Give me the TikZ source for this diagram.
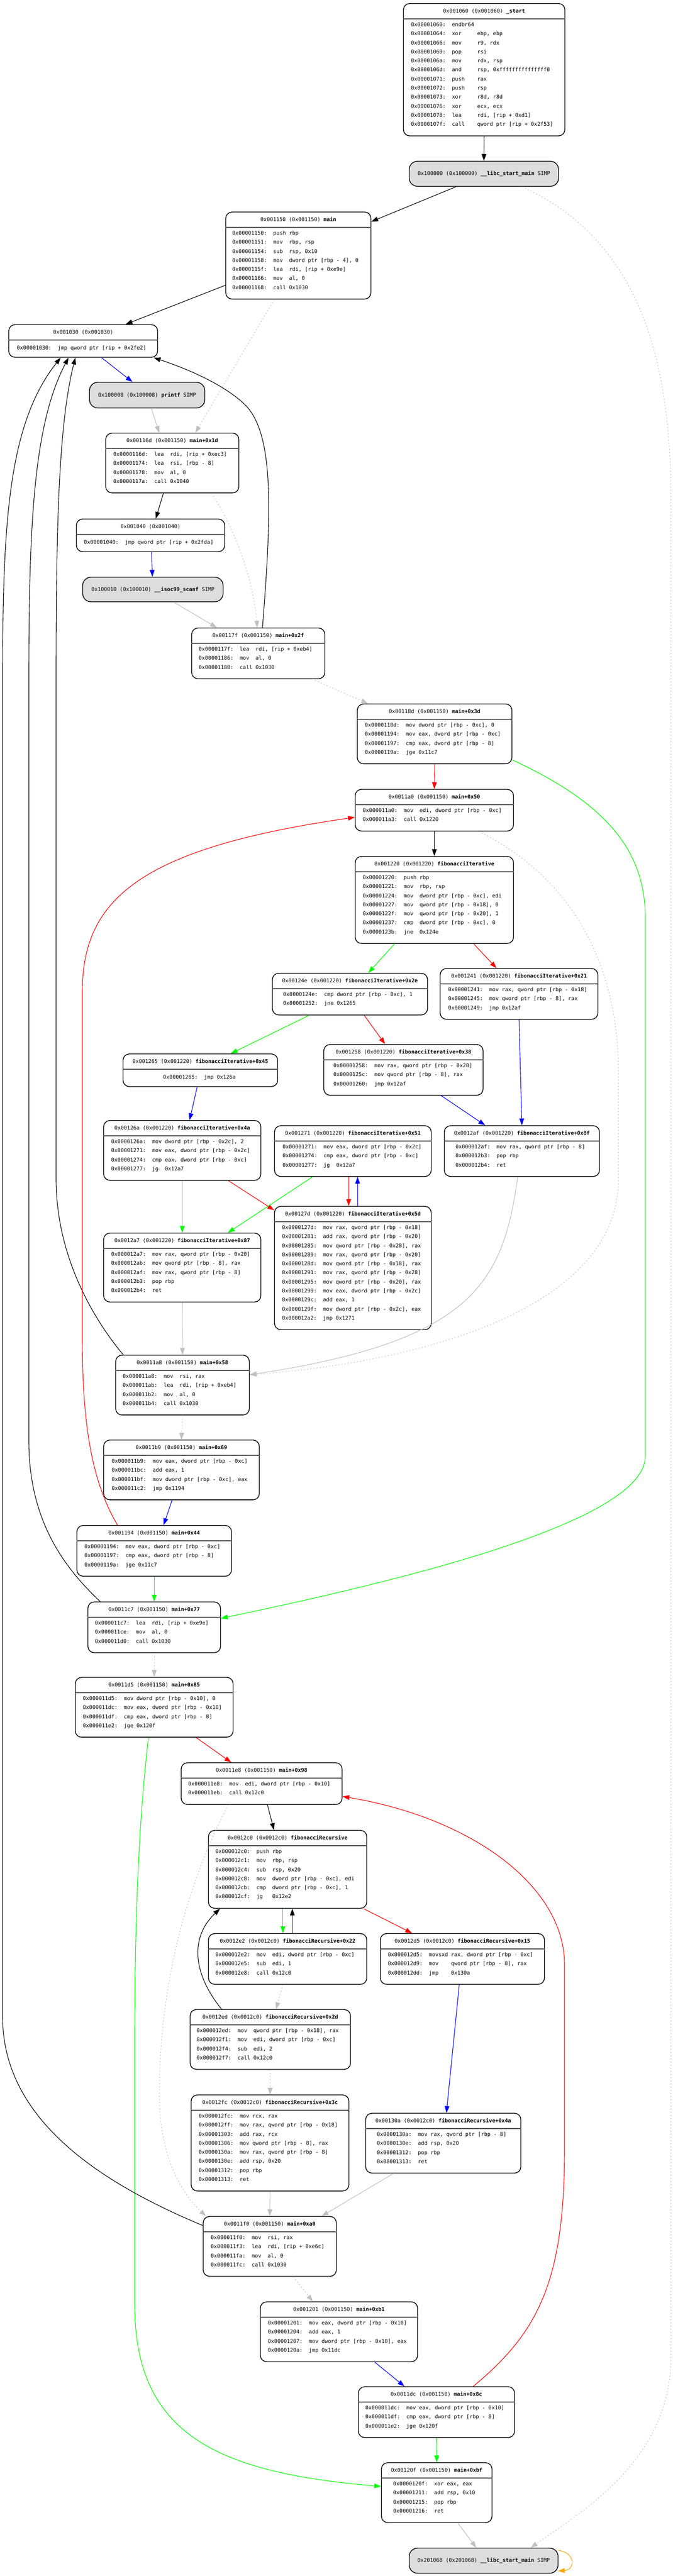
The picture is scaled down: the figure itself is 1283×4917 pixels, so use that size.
\documentclass[tikz,border=0pt]{standalone}
\usepackage{fontspec}
\setmonofont{DejaVu Sans Mono}
\usetikzlibrary{arrows.meta}
\definecolor{retgray}{RGB}{192,192,192}
\definecolor{loopor}{RGB}{255,165,0}
\definecolor{simpfill}{RGB}{221,221,221}
\definecolor{sepgray}{RGB}{85,85,85}
\definecolor{egreen}{RGB}{0,255,0}
\newcommand{\cfgfont}{\ttfamily\frenchspacing\fontsize{10pt}{17.3pt}\selectfont}
\tikzset{
  blkbox/.style={draw=black, line width=1.4pt, rounded corners=12pt, fill=white, inner sep=0pt},
  blksep/.style={draw=sepgray, line width=1.8pt},
  blktitle/.style={anchor=base, inner sep=0pt, font=\cfgfont},
  blkbody/.style={anchor=north west, inner sep=0pt, align=left, font=\cfgfont, execute at begin node={\rule{0pt}{12pt}}},
  simpbox/.style={draw=black, line width=1.4pt, rounded corners=16pt, fill=simpfill, inner sep=0pt, font=\cfgfont},
  cfe/.style={line width=1.1pt, -{Triangle[length=13pt,width=9pt]}},
  ebk/.style={cfe, color=black},
  erd/.style={cfe, color=red},
  egr/.style={cfe, color=egreen},
  ebl/.style={cfe, color=blue},
  ert/.style={cfe, color=retgray},
  efk/.style={cfe, color=retgray, dash pattern=on 2pt off 4pt},
  eor/.style={cfe, color=loopor}
}
% name, x, y, width, lines, body pad, title, body
\newcommand{\cfgblk}[8]{%
  \pgfmathsetmacro{\cfgh}{45+17.3*#5}%
  \node[blkbox, minimum width=#4pt, minimum height=\cfgh pt, anchor=north west] (#1) at (#2,#3) {};
  \draw[blksep] ([yshift=-30pt]#1.north west) -- ([yshift=-30pt]#1.north east);
  \node[blktitle] at ([yshift=-18.6pt]#1.north) {#7};
  \node[blkbody] at ([xshift=#6pt,yshift=-36.6pt]#1.north west) {#8};
}
% name, x, y, width, height, text
\newcommand{\simpblk}[6]{%
  \node[simpbox, minimum width=#4pt, minimum height=#5pt, anchor=north west] (#1) at (#2,#3) {#6};
}
\begin{document}
\begin{tikzpicture}[x=1pt, y=-1pt]
\useasboundingbox (0,0) rectangle (1283,4917);

\cfgblk{start}{769}{6}{308}{12}{15}{0x001060 (0x001060) \textbf{\_start}}{%
0x00001060:~~endbr64\\
0x00001064:~~xor~~~~~ebp, ebp\\
0x00001066:~~mov~~~~~r9, rdx\\
0x00001069:~~pop~~~~~rsi\\
0x0000106a:~~mov~~~~~rdx, rsp\\
0x0000106d:~~and~~~~~rsp, 0xfffffffffffffff0\\
0x00001071:~~push~~~~rax\\
0x00001072:~~push~~~~rsp\\
0x00001073:~~xor~~~~~r8d, r8d\\
0x00001076:~~xor~~~~~ecx, ecx\\
0x00001078:~~lea~~~~~rdi, [rip + 0xd1]\\
0x0000107f:~~call~~~~qword ptr [rip + 0x2f53]}

\simpblk{libcA}{780}{307}{285}{48}{0x100000 (0x100000) \textbf{\_\_libc\_start\_main} SIMP}

\cfgblk{main}{430}{404}{277}{7}{13}{0x001150 (0x001150) \textbf{main}}{%
0x00001150:~~push~rbp\\
0x00001151:~~mov~~rbp, rsp\\
0x00001154:~~sub~~rsp, 0x10\\
0x00001158:~~mov~~dword ptr [rbp - 4], 0\\
0x0000115f:~~lea~~rdi, [rip + 0xe9e]\\
0x00001166:~~mov~~al, 0\\
0x00001168:~~call~0x1030}

\cfgblk{pltA}{16}{619}{284}{1}{16}{0x001030 (0x001030)}{%
0x00001030:~~jmp qword ptr [rip + 0x2fe2]}

\simpblk{printf}{170}{729}{220}{49}{0x100008 (0x100008) \textbf{printf} SIMP}

\cfgblk{mA}{201}{826}{254}{4}{15}{0x00116d (0x001150) \textbf{main+0x1d}}{%
0x0000116d:~~lea~~rdi, [rip + 0xec3]\\
0x00001174:~~lea~~rsi, [rbp - 8]\\
0x00001178:~~mov~~al, 0\\
0x0000117a:~~call~0x1040}

\cfgblk{pltB}{145}{990}{283}{1}{15}{0x001040 (0x001040)}{%
0x00001040:~~jmp qword ptr [rip + 0x2fda]}

\simpblk{scanf}{157}{1101}{268}{47}{0x100010 (0x100010) \textbf{\_\_isoc99\_scanf} SIMP}

\cfgblk{mB}{365}{1198}{254}{3}{14}{0x00117f (0x001150) \textbf{main+0x2f}}{%
0x0000117f:~~lea~~rdi, [rip + 0xeb4]\\
0x00001186:~~mov~~al, 0\\
0x00001188:~~call~0x1030}

\cfgblk{mC}{681}{1343}{295}{4}{15}{0x00118d (0x001150) \textbf{main+0x3d}}{%
0x0000118d:~~mov dword ptr [rbp - 0xc], 0\\
0x00001194:~~mov eax, dword ptr [rbp - 0xc]\\
0x00001197:~~cmp eax, dword ptr [rbp - 8]\\
0x0000119a:~~jge 0x11c7}

\cfgblk{mD}{677}{1506}{302}{2}{15}{0x0011a0 (0x001150) \textbf{main+0x50}}{%
0x000011a0:~~mov~~edi, dword ptr [rbp - 0xc]\\
0x000011a3:~~call~0x1220}

\cfgblk{fibI}{677}{1634}{302}{7}{15}{0x001220 (0x001220) \textbf{fibonacciIterative}}{%
0x00001220:~~push~rbp\\
0x00001221:~~mov~~rbp, rsp\\
0x00001224:~~mov~~dword ptr [rbp - 0xc], edi\\
0x00001227:~~mov~~qword ptr [rbp - 0x18], 0\\
0x0000122f:~~mov~~qword ptr [rbp - 0x20], 1\\
0x00001237:~~cmp~~dword ptr [rbp - 0xc], 0\\
0x0000123b:~~jne~~0x124e}

\cfgblk{iA}{519}{1857}{296}{2}{21}{0x00124e (0x001220) \textbf{fibonacciIterative+0x2e}}{%
0x0000124e:~~cmp dword ptr [rbp - 0xc], 1\\
0x00001252:~~jne 0x1265}

\cfgblk{iB}{839}{1848}{301}{3}{16}{0x001241 (0x001220) \textbf{fibonacciIterative+0x21}}{%
0x00001241:~~mov rax, qword ptr [rbp - 0x18]\\
0x00001245:~~mov qword ptr [rbp - 8], rax\\
0x00001249:~~jmp 0x12af}

\cfgblk{iC}{617}{1993}{304}{3}{19}{0x001258 (0x001220) \textbf{fibonacciIterative+0x38}}{%
0x00001258:~~mov rax, qword ptr [rbp - 0x20]\\
0x0000125c:~~mov qword ptr [rbp - 8], rax\\
0x00001260:~~jmp 0x12af}

\cfgblk{iD}{234}{2011}{295}{1}{77}{0x001265 (0x001220) \textbf{fibonacciIterative+0x45}}{%
0x00001265:~~jmp 0x126a}

\cfgblk{iE}{197}{2138}{300}{4}{15}{0x00126a (0x001220) \textbf{fibonacciIterative+0x4a}}{%
0x0000126a:~~mov dword ptr [rbp - 0x2c], 2\\
0x00001271:~~mov eax, dword ptr [rbp - 0x2c]\\
0x00001274:~~cmp eax, dword ptr [rbp - 0xc]\\
0x00001277:~~jg~~0x12a7}

\cfgblk{iF}{523}{2148}{299}{3}{16}{0x001271 (0x001220) \textbf{fibonacciIterative+0x51}}{%
0x00001271:~~mov eax, dword ptr [rbp - 0x2c]\\
0x00001274:~~cmp eax, dword ptr [rbp - 0xc]\\
0x00001277:~~jg~~0x12a7}

\cfgblk{iG}{847}{2148}{296}{3}{22}{0x0012af (0x001220) \textbf{fibonacciIterative+0x8f}}{%
0x000012af:~~mov rax, qword ptr [rbp - 8]\\
0x000012b3:~~pop rbp\\
0x000012b4:~~ret}

\cfgblk{iH}{523}{2302}{299}{11}{15}{0x00127d (0x001220) \textbf{fibonacciIterative+0x5d}}{%
0x0000127d:~~mov rax, qword ptr [rbp - 0x18]\\
0x00001281:~~add rax, qword ptr [rbp - 0x20]\\
0x00001285:~~mov qword ptr [rbp - 0x28], rax\\
0x00001289:~~mov rax, qword ptr [rbp - 0x20]\\
0x0000128d:~~mov qword ptr [rbp - 0x18], rax\\
0x00001291:~~mov rax, qword ptr [rbp - 0x28]\\
0x00001295:~~mov qword ptr [rbp - 0x20], rax\\
0x00001299:~~mov eax, dword ptr [rbp - 0x2c]\\
0x0000129c:~~add eax, 1\\
0x0000129f:~~mov dword ptr [rbp - 0x2c], eax\\
0x000012a2:~~jmp 0x1271}

\cfgblk{iJ}{197}{2353}{300}{5}{15}{0x0012a7 (0x001220) \textbf{fibonacciIterative+0x87}}{%
0x000012a7:~~mov rax, qword ptr [rbp - 0x20]\\
0x000012ab:~~mov qword ptr [rbp - 8], rax\\
0x000012af:~~mov rax, qword ptr [rbp - 8]\\
0x000012b3:~~pop rbp\\
0x000012b4:~~ret}

\cfgblk{mE}{220}{2586}{255}{4}{14}{0x0011a8 (0x001150) \textbf{main+0x58}}{%
0x000011a8:~~mov~~rsi, rax\\
0x000011ab:~~lea~~rdi, [rip + 0xeb4]\\
0x000011b2:~~mov~~al, 0\\
0x000011b4:~~call~0x1030}

\cfgblk{mF}{197}{2748}{297}{4}{16}{0x0011b9 (0x001150) \textbf{main+0x69}}{%
0x000011b9:~~mov eax, dword ptr [rbp - 0xc]\\
0x000011bc:~~add eax, 1\\
0x000011bf:~~mov dword ptr [rbp - 0xc], eax\\
0x000011c2:~~jmp 0x1194}

\cfgblk{mG}{146}{2911}{295}{3}{15}{0x001194 (0x001150) \textbf{main+0x44}}{%
0x00001194:~~mov eax, dword ptr [rbp - 0xc]\\
0x00001197:~~cmp eax, dword ptr [rbp - 8]\\
0x0000119a:~~jge 0x11c7}

\cfgblk{mH}{167}{3057}{253}{3}{14}{0x0011c7 (0x001150) \textbf{main+0x77}}{%
0x000011c7:~~lea~~rdi, [rip + 0xe9e]\\
0x000011ce:~~mov~~al, 0\\
0x000011d0:~~call~0x1030}

\cfgblk{mJ}{143}{3201}{301}{4}{15}{0x0011d5 (0x001150) \textbf{main+0x85}}{%
0x000011d5:~~mov dword ptr [rbp - 0x10], 0\\
0x000011dc:~~mov eax, dword ptr [rbp - 0x10]\\
0x000011df:~~cmp eax, dword ptr [rbp - 8]\\
0x000011e2:~~jge 0x120f}

\cfgblk{mK}{345}{3364}{307}{2}{14}{0x0011e8 (0x001150) \textbf{main+0x98}}{%
0x000011e8:~~mov~~edi, dword ptr [rbp - 0x10]\\
0x000011eb:~~call~0x12c0}

\cfgblk{fibR}{397}{3493}{302}{6}{14}{0x0012c0 (0x0012c0) \textbf{fibonacciRecursive}}{%
0x000012c0:~~push~rbp\\
0x000012c1:~~mov~~rbp, rsp\\
0x000012c4:~~sub~~rsp, 0x20\\
0x000012c8:~~mov~~dword ptr [rbp - 0xc], edi\\
0x000012cb:~~cmp~~dword ptr [rbp - 0xc], 1\\
0x000012cf:~~jg~~~0x12e2}

\cfgblk{rA}{397}{3690}{302}{3}{14}{0x0012e2 (0x0012c0) \textbf{fibonacciRecursive+0x22}}{%
0x000012e2:~~mov~~edi, dword ptr [rbp - 0xc]\\
0x000012e5:~~sub~~edi, 1\\
0x000012e8:~~call~0x12c0}

\cfgblk{rB}{725}{3690}{313}{3}{15}{0x0012d5 (0x0012c0) \textbf{fibonacciRecursive+0x15}}{%
0x000012d5:~~movsxd~rax, dword ptr [rbp - 0xc]\\
0x000012d9:~~mov~~~~qword ptr [rbp - 8], rax\\
0x000012dd:~~jmp~~~~0x130a}

\cfgblk{rC}{362}{3835}{306}{4}{13}{0x0012ed (0x0012c0) \textbf{fibonacciRecursive+0x2d}}{%
0x000012ed:~~mov~~qword ptr [rbp - 0x18], rax\\
0x000012f1:~~mov~~edi, dword ptr [rbp - 0xc]\\
0x000012f4:~~sub~~edi, 2\\
0x000012f7:~~call~0x12c0}

\cfgblk{rD}{364}{3998}{301}{8}{15}{0x0012fc (0x0012c0) \textbf{fibonacciRecursive+0x3c}}{%
0x000012fc:~~mov rcx, rax\\
0x000012ff:~~mov rax, qword ptr [rbp - 0x18]\\
0x00001303:~~add rax, rcx\\
0x00001306:~~mov qword ptr [rbp - 8], rax\\
0x0000130a:~~mov rax, qword ptr [rbp - 8]\\
0x0000130e:~~add rsp, 0x20\\
0x00001312:~~pop rbp\\
0x00001313:~~ret}

\cfgblk{rE}{697}{4033}{296}{4}{22}{0x00130a (0x0012c0) \textbf{fibonacciRecursive+0x4a}}{%
0x0000130a:~~mov rax, qword ptr [rbp - 8]\\
0x0000130e:~~add rsp, 0x20\\
0x00001312:~~pop rbp\\
0x00001313:~~ret}

\cfgblk{mL}{387}{4230}{254}{4}{15}{0x0011f0 (0x001150) \textbf{main+0xa0}}{%
0x000011f0:~~mov~~rsi, rax\\
0x000011f3:~~lea~~rdi, [rip + 0xe6c]\\
0x000011fa:~~mov~~al, 0\\
0x000011fc:~~call~0x1030}

\cfgblk{mM}{496}{4393}{300}{4}{15}{0x001201 (0x001150) \textbf{main+0xb1}}{%
0x00001201:~~mov eax, dword ptr [rbp - 0x10]\\
0x00001204:~~add eax, 1\\
0x00001207:~~mov dword ptr [rbp - 0x10], eax\\
0x0000120a:~~jmp 0x11dc}

\cfgblk{mN}{683}{4555}{298}{3}{14}{0x0011dc (0x001150) \textbf{main+0x8c}}{%
0x000011dc:~~mov eax, dword ptr [rbp - 0x10]\\
0x000011df:~~cmp eax, dword ptr [rbp - 8]\\
0x000011e2:~~jge 0x120f}

\cfgblk{mP}{727}{4700}{211}{4}{23}{0x00120f (0x001150) \textbf{main+0xbf}}{%
0x0000120f:~~xor eax, eax\\
0x00001211:~~add rsp, 0x10\\
0x00001215:~~pop rbp\\
0x00001216:~~ret}

\simpblk{libcB}{780}{4863}{284}{48}{0x201068 (0x201068) \textbf{\_\_libc\_start\_main} SIMP}

% ---------------- edges ----------------
\draw[ebk] (start.south) -- (libcA.north);
\draw[ebk] ([xshift=-53pt]libcA.south) -- ([yshift=-19pt]main.north east);
\draw[efk] ([xshift=73pt]libcA.south) .. controls (1200,450) and (1280,650) .. (1280,950) -- (1280,4500) .. controls (1280,4700) and (1100,4800) .. ([xshift=90pt]libcB.north);
\draw[ebk] ([yshift=27pt]main.south west) -- ([xshift=81pt]pltA.north);
\draw[efk] ([xshift=-46pt]main.south) -- ([xshift=44pt]mA.north);
\draw[ebl] ([xshift=35pt]pltA.south) -- ([xshift=-28pt]printf.north);
\draw[ert] ([xshift=8pt]printf.south) -- ([xshift=-25pt]mA.north);
\draw[ebk] ([xshift=-17pt]mA.south) -- ([xshift=10pt]pltB.north);
\draw[efk] ([xshift=75pt]mA.south) .. controls (455,1020) and (485,1120) .. ([xshift=-2pt]mB.north);
\draw[ebl] ([xshift=2pt]pltB.south) -- ([xshift=-1pt]scanf.north);
\draw[ert] ([xshift=40pt]scanf.south) -- ([xshift=-79pt]mB.north);
\draw[ebk] ([xshift=8pt]mB.north) .. controls (520,960) and (520,830) .. (470,775) .. controls (430,735) and (360,705) .. ([xshift=-8pt]pltA.south east);
\draw[efk] ([xshift=103pt]mB.south) -- ([xshift=-127pt]mC.north);
\draw[erd] (mC.south) -- (mD.north);
\draw[egr] ([yshift=8pt]mC.south east) .. controls (1150,1530) and (1231,1620) .. (1231,1750) -- (1231,2780) .. controls (1231,2900) and (800,3010) .. ([yshift=-32pt]mH.north east);
\draw[ebk] (mD.south) -- (fibI.north);
\draw[efk] ([xshift=85pt]mD.south) .. controls (1100,1680) and (1180,1850) .. (1180,2050) -- (1180,2250) .. controls (1180,2500) and (800,2600) .. ([yshift=-38pt]mE.north east);
\draw[egr] ([xshift=-76pt]fibI.south) -- ([xshift=35pt]iA.north);
\draw[erd] ([xshift=75pt]fibI.south) -- ([xshift=-43pt]iB.north);
\draw[erd] ([xshift=27pt]iA.south) -- ([xshift=-35pt]iC.north);
\draw[egr] ([xshift=-78pt]iA.south) -- ([xshift=58pt]iD.north);
\draw[ebl] (iB.south) -- (iG.north);
\draw[ebl] ([xshift=72pt]iC.south) -- ([xshift=-70pt]iG.north);
\draw[ebl] ([xshift=-6pt]iD.south) -- ([xshift=14pt]iE.north);
\draw[egr] (iE.south) -- (iJ.north);
\draw[erd] ([xshift=88pt]iE.south) -- ([yshift=-8pt]iH.north west);
\draw[egr] ([xshift=-77pt]iF.south) -- ([xshift=87pt]iJ.north);
\draw[erd] ([xshift=-8pt]iF.south) -- ([xshift=-8pt]iH.north);
\draw[ebl] ([xshift=9pt]iH.north) -- ([xshift=9pt]iF.south);
\draw[ert] ([xshift=-8pt]iG.south) .. controls (960,2450) and (900,2560) .. ([yshift=-38pt]mE.north east);
\draw[ert] (iJ.south) -- (mE.north);
\draw[ebk] ([xshift=-113pt]mE.north) .. controls (180,2520) and (107,2400) .. (107,2250) -- (107,1300) .. controls (107,1000) and (112,810) .. ([xshift=-15pt]pltA.south);
\draw[efk] (mE.south) -- (mF.north);
\draw[ebl] ([xshift=-18pt]mF.south) -- ([xshift=18pt]mG.north);
\draw[erd] ([xshift=-70pt]mG.north) .. controls (170,2820) and (157,2700) .. (157,2550) -- (157,1894) .. controls (157,1720) and (260,1620) .. ([yshift=-54pt]mD.north west);
\draw[egr] (mG.south) -- (mH.north);
\draw[ebk] ([xshift=-103pt]mH.north) .. controls (120,2990) and (55,2900) .. (55,2750) -- (55,1300) .. controls (55,1000) and (64,810) .. ([xshift=-28pt]pltA.south);
\draw[efk] (mH.south) -- (mJ.north);
\draw[egr] ([xshift=-11pt]mJ.south) .. controls (262,3500) and (257,3700) .. (257,3900) -- (257,4400) .. controls (257,4650) and (420,4720) .. ([yshift=-46pt]mP.north west);
\draw[erd] ([xshift=80pt]mJ.south) -- ([xshift=-58pt]mK.north);
\draw[ebk] ([xshift=11pt]mK.south) -- ([xshift=-26pt]fibR.north);
\draw[efk] ([xshift=-64pt]mK.south) .. controls (330,3650) and (304,3850) .. (304,4000) .. controls (304,4120) and (350,4190) .. ([xshift=6pt]mL.north west);
\draw[egr] ([xshift=-9pt]fibR.south) -- ([xshift=-9pt]rA.north);
\draw[ebk] ([xshift=9pt]rA.north) -- ([xshift=9pt]fibR.south);
\draw[erd] ([xshift=145pt]fibR.south) -- ([xshift=-96pt]rB.north);
\draw[ebk] ([xshift=-93pt]rC.north) .. controls (370,3770) and (360,3700) .. ([xshift=-129pt]fibR.south);
\draw[efk] ([xshift=-9pt]rA.south) -- ([xshift=11pt]rC.north);
\draw[ebl] ([xshift=-6pt]rB.south) -- ([xshift=6pt]rE.north);
\draw[efk] (rC.south) -- (rD.north);
\draw[ert] (rD.south) -- (mL.north);
\draw[ert] ([xshift=-95pt]rE.south) -- ([xshift=99pt]mL.north);
\draw[ebk] ([yshift=-18pt]mL.north west) .. controls (200,4170) and (5,4050) .. (5,3850) -- (5,1300) .. controls (5,1000) and (15,810) .. ([xshift=-43pt]pltA.south);
\draw[efk] ([xshift=45pt]mL.south) -- ([xshift=-50pt]mM.north);
\draw[ebl] ([xshift=68pt]mM.south) -- ([xshift=-61pt]mN.north);
\draw[erd] ([xshift=70pt]mN.north) .. controls (1030,4450) and (1077,4350) .. (1077,4100) -- (1077,3750) .. controls (1077,3600) and (900,3470) .. ([yshift=16pt]mK.south east);
\draw[egr] (mN.south) -- (mP.north);
\draw[ert] ([xshift=40pt]mP.south) -- ([xshift=-14pt]libcB.north);
\draw[eor] ([yshift=-5pt]libcB.north east) .. controls (1098,4872) and (1098,4905) .. ([yshift=5pt,xshift=-1pt]libcB.south east);
\end{tikzpicture}
\end{document}
